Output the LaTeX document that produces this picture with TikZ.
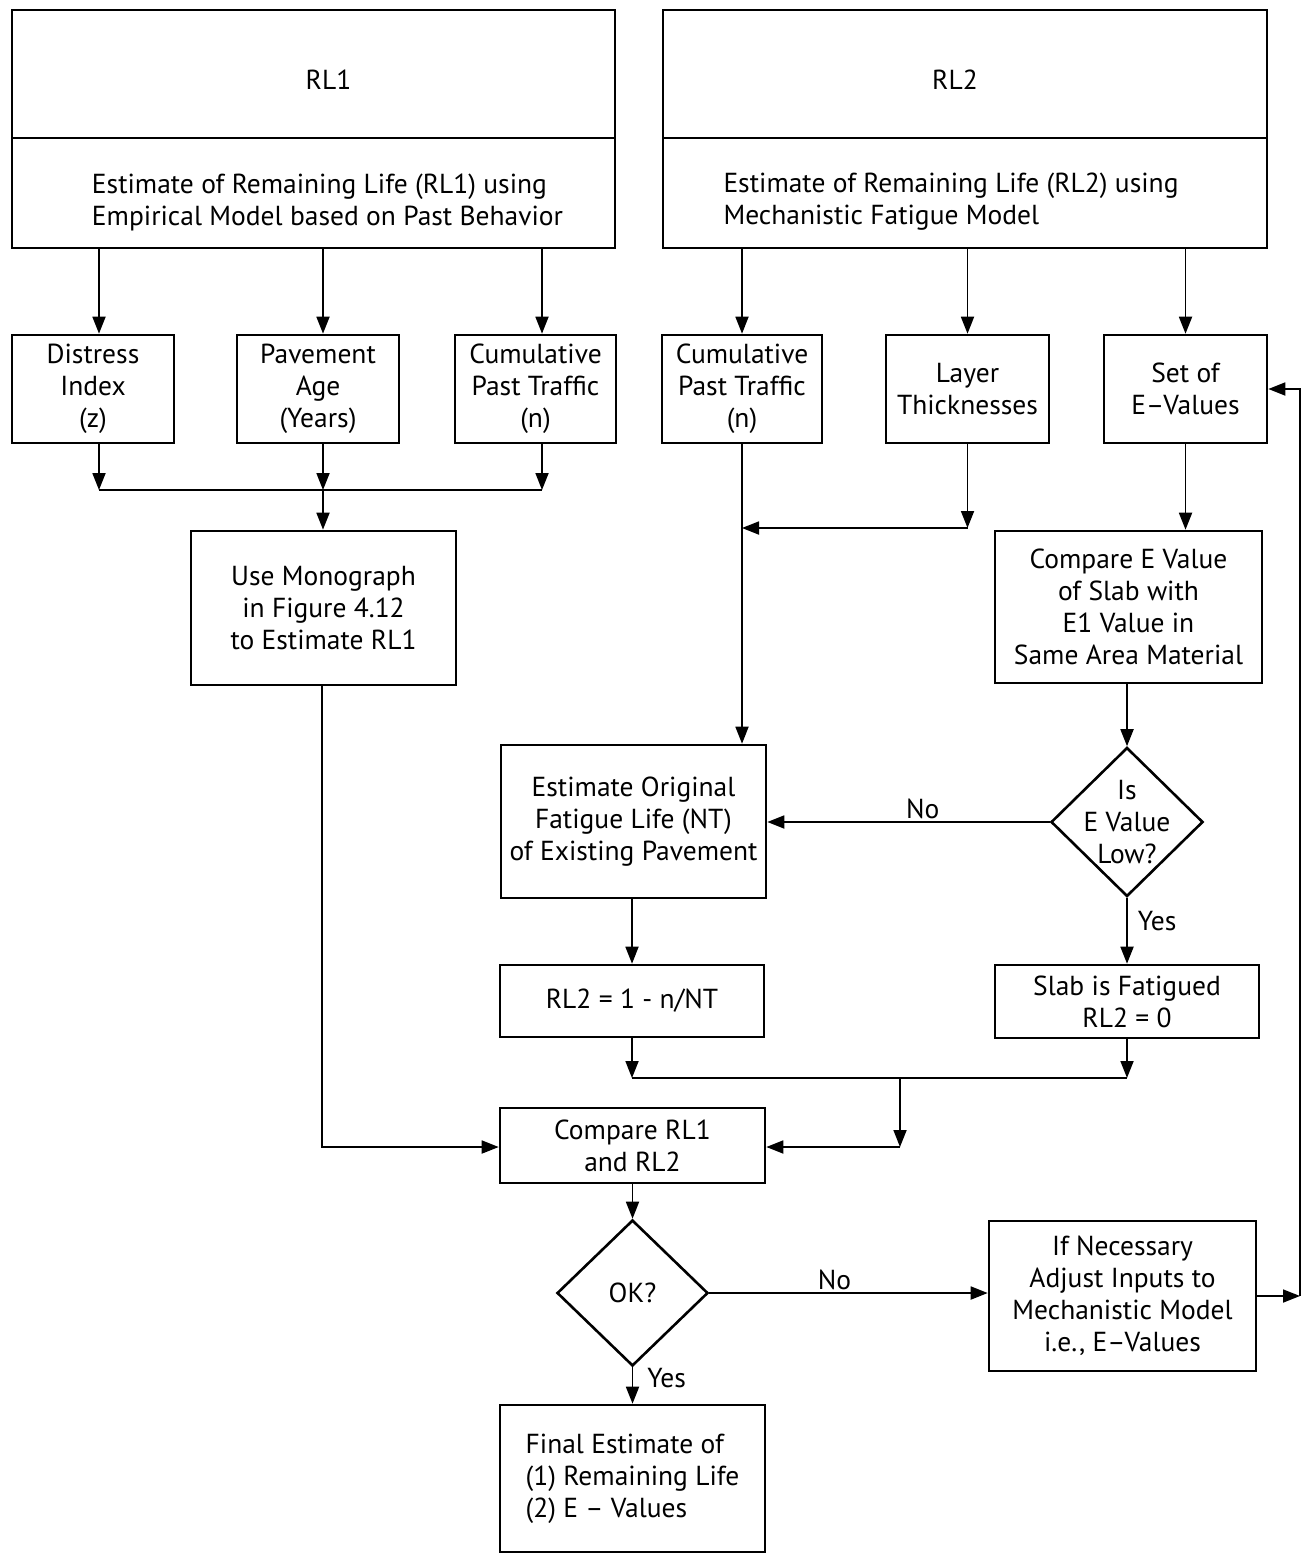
\documentclass[tikz,border=0pt]{standalone}
\usepackage{fontspec}
\setmainfont{PT Sans}
\usetikzlibrary{arrows.meta,shapes.geometric}
\newcommand{\txtfont}{\fontsize{27.5}{32}\selectfont}
\tikzset{
  box/.style={draw, line width=2.6pt, inner sep=0pt, align=center, font=\txtfont},
  dia/.style={draw, diamond, line width=2.6pt, inner sep=0pt, align=center, font=\txtfont},
  conn/.style={line width=1.8pt},
  arr/.style={conn, -{Triangle[length=17pt,width=13pt]}},
  lab/.style={font=\txtfont, inner sep=2pt}
}
\begin{document}
\begin{tikzpicture}[x=1pt,y=-1pt]
\useasboundingbox (0,0) rectangle (1302,1554);
% top boxes
\node[box, minimum width=603, minimum height=128, label={[lab, xshift=15pt, yshift=-6pt]center:RL1}] (rl1h) at (313.5,74) {};
\node[box, minimum width=603, minimum height=110, label={[lab, align=left, yshift=-9pt, xshift=14pt]center:Estimate of Remaining Life (RL1) using\\Empirical Model based on Past Behavior}] (rl1b) at (313.5,193) {};
\node[box, minimum width=604, minimum height=128, label={[lab, xshift=-10pt, yshift=-6pt]center:RL2}] (rl2h) at (965,74) {};
\node[box, minimum width=604, minimum height=110, label={[lab, align=left, yshift=-9pt, xshift=-14pt]center:Estimate of Remaining Life (RL2) using\\Mechanistic Fatigue Model}] (rl2b) at (965,193) {};
% second row
\node[box, minimum width=162, minimum height=108] (dist) at (93,389) {Distress\\Index\\(z)};
\node[box, minimum width=162, minimum height=108] (page) at (318,389) {Pavement\\Age\\(Years)};
\node[box, minimum width=161, minimum height=108] (cum1) at (535.5,389) {Cumulative\\Past Traffic\\(n)};
\node[box, minimum width=160, minimum height=108] (cum2) at (742,389) {Cumulative\\Past Traffic\\(n)};
\node[box, minimum width=163, minimum height=108] (layer) at (967.5,389) {Layer\\Thicknesses};
\node[box, minimum width=163, minimum height=108] (setE) at (1185.5,389) {Set of\\E--Values};
% middle
\node[box, minimum width=265, minimum height=154] (mono) at (323.5,608) {Use Monograph\\in Figure 4.12\\to Estimate RL1};
\node[box, minimum width=267, minimum height=152] (cmpE) at (1128.5,607) {Compare E Value\\of Slab with\\E1 Value in\\Same Area Material};
\node[dia, minimum width=152, minimum height=149, label={[lab, align=center, inner sep=0pt]center:Is\\E Value\\Low?}] (isE) at (1127,822) {};
\node[box, minimum width=265, minimum height=153] (est) at (633.5,821.5) {Estimate Original\\Fatigue Life (NT)\\of Existing Pavement};
\node[box, minimum width=264, minimum height=72] (rl2eq) at (632,1001) {RL2 = 1 - n/NT};
\node[box, minimum width=264, minimum height=73] (slab) at (1127,1001.5) {Slab is Fatigued\\RL2 = 0};
\node[box, minimum width=265, minimum height=75] (cmp) at (632.5,1145.5) {Compare RL1\\and RL2};
\node[dia, minimum width=151, minimum height=146] (ok) at (632.5,1293) {OK?};
\node[box, minimum width=267, minimum height=150] (adj) at (1122.5,1296) {If Necessary\\Adjust Inputs to\\Mechanistic Model\\i.e., E--Values};
\node[box, minimum width=265, minimum height=147, align=left] (final) at (632.5,1478.5) {Final Estimate of\\(1) Remaining Life\\(2) E -- Values};
% coordinates
\coordinate (jl1) at (99,490);
\coordinate (jl2) at (323,490);
\coordinate (jl3) at (542,490);
\coordinate (jr1) at (967,528);
\coordinate (jb1) at (632,1078);
\coordinate (jb3) at (900,1078);
\coordinate (jb4) at (900,1147);
\coordinate (jm) at (322,1147);
\coordinate (fbx) at (1300,0);
\coordinate (fb1) at (adj.east -| fbx);
% connectors left
\draw[arr] (rl1b.south -| jl1) -- (dist.north -| jl1);
\draw[arr] (rl1b.south -| jl2) -- (page.north -| jl2);
\draw[arr] (rl1b.south -| jl3) -- (cum1.north -| jl3);
\draw[arr] (dist.south -| jl1) -- (jl1);
\draw[arr] (page.south -| jl2) -- (jl2);
\draw[arr] (cum1.south -| jl3) -- (jl3);
\draw[conn] (jl1) -- (jl3);
\draw[arr] (jl2) -- (mono.north -| jl2);
\draw[arr] (mono.south -| jm) -- (jm) -- (cmp.west |- jm);
% connectors right
\draw[arr] (rl2b.south -| cum2.north) -- (cum2.north);
\draw[arr] (rl2b.south -| layer.north) -- (layer.north);
\draw[arr] (rl2b.south -| setE.north) -- (setE.north);
\draw[arr] (cum2.south) -- (cum2.south |- est.north);
\draw[arr] (layer.south) -- (layer.south |- jr1);
\draw[arr] (layer.south |- jr1) -- (cum2.south |- jr1);
\draw[arr] (setE.south) -- (setE.south |- cmpE.north);
\draw[arr] (cmpE.south -| isE.north) -- (isE.north);
\draw[arr] (isE.west) -- node[lab, above, pos=0.45] {No} (est.east |- isE.west);
\draw[arr] (isE.south) -- node[lab, right, pos=0.35, xshift=8pt] {Yes} (isE.south |- slab.north);
\draw[arr] (est.south -| rl2eq.north) -- (rl2eq.north);
\draw[arr] (rl2eq.south) -- (rl2eq.south |- jb1);
\draw[arr] (slab.south) -- (slab.south |- jb1);
\draw[conn] (rl2eq.south |- jb1) -- (slab.south |- jb1);
\draw[arr] (jb3) -- (jb4);
\draw[arr] (jb4) -- (cmp.east |- jb4);
\draw[arr] (cmp.south) -- (ok.north);
\draw[arr] (ok.east) -- node[lab, above, pos=0.45] {No} (ok.east -| adj.west);
\draw[arr] (ok.south) -- node[lab, right, pos=0.3, xshift=12pt] {Yes} (final.north);
\draw[arr] (adj.east) -- (fb1);
\draw[arr] (fb1) -- (fb1 |- setE.east) -- (setE.east);
\end{tikzpicture}
\end{document}
